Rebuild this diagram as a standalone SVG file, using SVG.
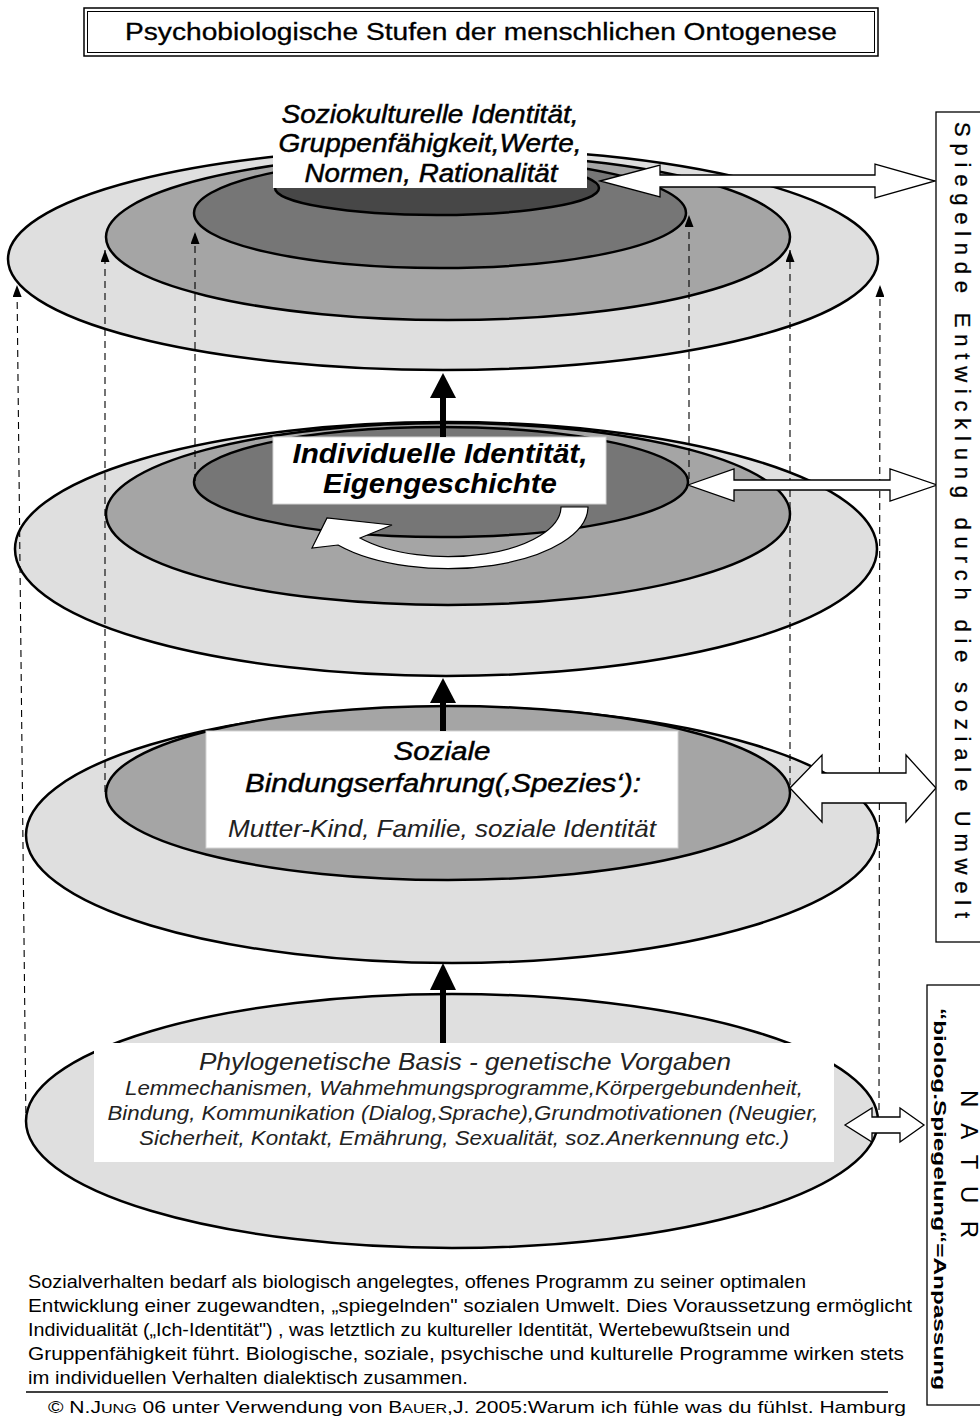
<svg xmlns="http://www.w3.org/2000/svg" width="980" height="1418" viewBox="0 0 980 1418">
<style>
.ell{stroke:#000;stroke-width:2.5}
.c1{fill:#dfdfdf}.c2{fill:#a5a5a5}.c3{fill:#767676}.c4{fill:#474747}
.box{fill:#fff;stroke:#d4d4d4;stroke-width:1}
.lab{font-family:"Liberation Sans",Arial,sans-serif;font-style:italic;text-anchor:middle;fill:#000}
.med{stroke:#000;stroke-width:0.45}
.thin{fill:#222}
.dash{fill:none;stroke:#000;stroke-width:1.1;stroke-dasharray:7 5;marker-end:url(#dh)}
.thick{stroke:#000;stroke-width:6}
.dbl{fill:#fff;stroke:#000;stroke-width:1.3;stroke-linejoin:miter}
.sans{font-family:"Liberation Sans",Arial,sans-serif;fill:#000}
</style>
<defs>
<marker id="dh" markerWidth="12" markerHeight="9" refX="12" refY="4.5" orient="auto" markerUnits="userSpaceOnUse">
<path d="M0,0 L12,4.5 L0,9 z" fill="#000"/>
</marker>
</defs>
<rect width="980" height="1418" fill="#fff"/>

<g id="title">
<rect x="84" y="8" width="794" height="48" fill="#fff" stroke="#000" stroke-width="1.5"/>
<rect x="87.5" y="11.5" width="787" height="41" fill="none" stroke="#000" stroke-width="1"/>
<text class="sans" x="481" y="40" font-size="23" text-anchor="middle" stroke="#000" stroke-width="0.3" textLength="712" lengthAdjust="spacingAndGlyphs">Psychobiologische Stufen der menschlichen Ontogenese</text>
</g>

<g id="level3">
<ellipse class="ell c1" cx="443" cy="259" rx="435" ry="111"/>
<ellipse class="ell c2" cx="448" cy="237" rx="342" ry="83"/>
<ellipse class="ell c3" cx="440" cy="213" rx="246" ry="55"/>
<ellipse class="ell c4" cx="437" cy="188" rx="162" ry="27"/>
<rect x="273" y="100" width="314" height="88" fill="#fff"/>
<text class="lab med" x="430" y="123" font-size="25" textLength="297" lengthAdjust="spacingAndGlyphs">Soziokulturelle Identität,</text>
<text class="lab med" x="430" y="152" font-size="25" textLength="303" lengthAdjust="spacingAndGlyphs">Gruppenfähigkeit,Werte,</text>
<text class="lab med" x="431" y="182" font-size="25" textLength="253" lengthAdjust="spacingAndGlyphs">Normen, Rationalität</text>
</g>

<g id="level2">
<ellipse class="ell c1" cx="446" cy="549" rx="431" ry="127"/>
<ellipse class="ell c2" cx="448" cy="514" rx="342" ry="91"/>
<ellipse class="ell c3" cx="441" cy="482" rx="247" ry="55"/>
<rect class="box" x="273" y="437" width="333" height="67"/>
<text class="lab" x="440" y="463" font-size="27" font-weight="bold" textLength="295" lengthAdjust="spacingAndGlyphs">Individuelle Identität,</text>
<text class="lab" x="440" y="493" font-size="27" font-weight="bold" textLength="234" lengthAdjust="spacingAndGlyphs">Eigengeschichte</text>
<path d="M588,507 A140 62 0 0 1 338,545 L312,548 L327,518 L392,525 L360,538 A113 50 0 0 0 561,507 Z" fill="#fff" stroke="#000" stroke-width="1.2"/>
</g>

<g id="level1">
<ellipse class="ell c1" cx="452" cy="835" rx="426" ry="128"/>
<ellipse class="ell c2" cx="448" cy="793" rx="342" ry="87"/>
<rect class="box" x="206" y="731" width="472" height="117"/>
<text class="lab med" x="442" y="760" font-size="26" textLength="97" lengthAdjust="spacingAndGlyphs">Soziale</text>
<text class="lab med" x="443" y="792" font-size="26" textLength="396" lengthAdjust="spacingAndGlyphs">Bindungserfahrung(‚Spezies‘):</text>
<text class="lab thin" x="442" y="837" font-size="24" textLength="428" lengthAdjust="spacingAndGlyphs">Mutter-Kind, Familie, soziale Identität</text>
</g>

<g id="level0">
<ellipse class="ell c1" cx="452" cy="1121" rx="426" ry="127"/>
<rect x="94" y="1043" width="740" height="119" fill="#fff"/>
<text class="lab thin" x="465" y="1070" font-size="23" textLength="532" lengthAdjust="spacingAndGlyphs">Phylogenetische Basis - genetische Vorgaben</text>
<text class="lab thin" x="464" y="1095" font-size="20" textLength="678" lengthAdjust="spacingAndGlyphs">Lemmechanismen, Wahmehmungsprogramme,Körpergebundenheit,</text>
<text class="lab thin" x="463" y="1120" font-size="20" textLength="711" lengthAdjust="spacingAndGlyphs">Bindung, Kommunikation (Dialog,Sprache),Grundmotivationen (Neugier,</text>
<text class="lab thin" x="464" y="1145" font-size="20" textLength="650" lengthAdjust="spacingAndGlyphs">Sicherheit, Kontakt, Emährung, Sexualität, soz.Anerkennung etc.)</text>
</g>

<g id="connectors">
<line class="dash" x1="26" y1="1125" x2="17" y2="285"/>
<line class="dash" x1="879" y1="1110" x2="880" y2="285"/>
<line class="dash" x1="105" y1="792" x2="105" y2="250"/>
<line class="dash" x1="790" y1="785" x2="790" y2="250"/>
<line class="dash" x1="195" y1="481" x2="195" y2="232"/>
<line class="dash" x1="689" y1="479" x2="689" y2="215"/>
<line class="thick" x1="443" y1="437" x2="443" y2="395"/>
<polygon points="443,373 430,398 456,398" fill="#000"/>
<line class="thick" x1="443" y1="731" x2="443" y2="700"/>
<polygon points="443,678 430,703 456,703" fill="#000"/>
<line class="thick" x1="443" y1="1043" x2="443" y2="988"/>
<polygon points="443,963 430,990 456,990" fill="#000"/>
<polygon class="dbl" points="600,181 660,165 660,175 875,175 875,164 935,181 875,198 875,187 660,187 660,197"/>
<polygon class="dbl" points="688,485 734,469 734,480 890,480 890,469 937,485 890,501 890,490 734,490 734,501"/>
<polygon class="dbl" points="790,788 822,755 822,773 906,773 906,755 936,788 906,822 906,803 822,803 822,822"/>
<polygon class="dbl" points="845,1125 872,1108 872,1117 900,1117 900,1108 924,1125 900,1142 900,1133 872,1133 872,1142"/>
</g>

<g id="box-umwelt">
<rect x="936" y="112" width="60" height="830" fill="#fff" stroke="#000" stroke-width="1.3"/>
<text class="sans" x="520" y="-962" transform="rotate(90)" font-size="22" text-anchor="middle" dominant-baseline="central" stroke="#000" stroke-width="0.3" textLength="796">Spiegelnde Entwicklung durch die soziale Umwelt</text>
</g>

<g id="box-natur">
<rect x="927" y="985" width="70" height="420" fill="#fff" stroke="#000" stroke-width="1.3"/>
<text class="sans" x="1164" y="-969" transform="rotate(90)" font-size="24" text-anchor="middle" dominant-baseline="central" textLength="148">N A T U R</text>
<text class="sans" x="1199" y="-939" transform="rotate(90)" font-size="17" font-weight="bold" text-anchor="middle" dominant-baseline="central" textLength="382" lengthAdjust="spacingAndGlyphs">“biolog.Spiegelung“=Anpassung</text>
</g>

<g id="caption">
<text class="sans" x="28" y="1288" font-size="17.5" textLength="778" lengthAdjust="spacingAndGlyphs">Sozialverhalten bedarf als biologisch angelegtes, offenes Programm zu seiner optimalen</text>
<text class="sans" x="28" y="1312" font-size="17.5" textLength="884" lengthAdjust="spacingAndGlyphs">Entwicklung einer zugewandten, „spiegelnden" sozialen Umwelt. Dies Voraussetzung ermöglicht</text>
<text class="sans" x="28" y="1336" font-size="17.5" textLength="762" lengthAdjust="spacingAndGlyphs">Individualität („Ich-Identität") , was letztlich zu kultureller Identität, Wertebewußtsein und</text>
<text class="sans" x="28" y="1360" font-size="17.5" textLength="876" lengthAdjust="spacingAndGlyphs">Gruppenfähigkeit führt. Biologische, soziale, psychische und kulturelle Programme wirken stets</text>
<text class="sans" x="28" y="1384" font-size="17.5" textLength="440" lengthAdjust="spacingAndGlyphs">im individuellen Verhalten dialektisch zusammen.</text>
<line x1="26" y1="1392" x2="888" y2="1392" stroke="#000" stroke-width="1.5"/>
<text class="sans" x="48" y="1413" font-size="17" textLength="858" lengthAdjust="spacingAndGlyphs">© N.J<tspan font-size="13">UNG</tspan> 06 unter Verwendung von B<tspan font-size="13">AUER</tspan>,J. 2005:Warum ich fühle was du fühlst. Hamburg</text>
</g>
</svg>
